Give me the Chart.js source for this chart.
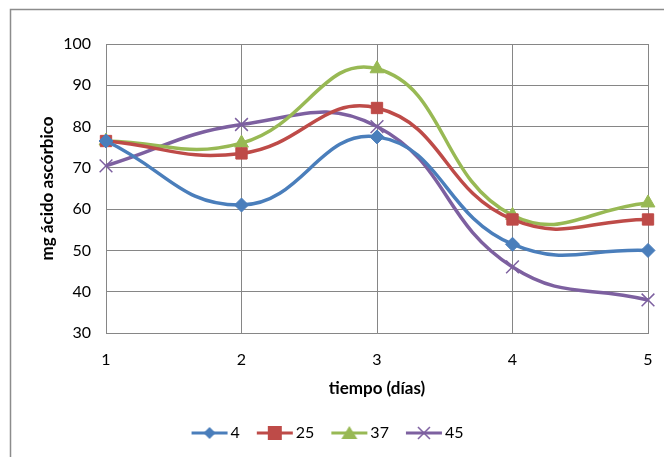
<!DOCTYPE html>
<html>
<head>
<meta charset="utf-8">
<script src="https://cdn.jsdelivr.net/npm/chart.js@4/dist/chart.umd.min.js"></script>
<style>
  html, body { margin: 0; padding: 0; background: #fff; }
  #wrap { width: 664px; height: 457px; position: relative; }
</style>
</head>
<body>
<div id="wrap"><canvas id="chart" width="664" height="457"></canvas></div>
<script>
'use strict';

var dias = ['1', '2', '3', '4', '5'];
var serie4 = [76.5, 61, 77.5, 51.5, 50];
var serie25 = [76.5, 73.5, 84.5, 57.5, 57.5];
var serie37 = [76.5, 76, 94, 58.5, 61.5];
var serie45 = [70.5, 80.5, 80, 46, 38];
var yTicks = [30, 40, 50, 60, 70, 80, 90, 100];

var FONT = 'Lato, "Open Sans", sans-serif';

// legend icon: short line with the marker in the middle (shifted right so the text sits close)
function legendIcon(color, style) {
    var c = document.createElement('canvas');
    c.width = 50; c.height = 16;
    var g = c.getContext('2d');
    var o = 12;
    g.strokeStyle = color;
    g.fillStyle = color;
    g.lineWidth = 3;
    g.beginPath(); g.moveTo(o + 1, 8); g.lineTo(o + 37, 8); g.stroke();
    if (style === 'rectRot') {
        g.beginPath(); g.moveTo(o + 19, 2); g.lineTo(o + 25, 8); g.lineTo(o + 19, 14); g.lineTo(o + 13, 8); g.closePath(); g.fill();
    } else if (style === 'rect') {
        g.fillRect(o + 12, 1, 14, 14);
    } else if (style === 'triangle') {
        g.beginPath(); g.moveTo(o + 19, 1); g.lineTo(o + 27, 14); g.lineTo(o + 11, 14); g.closePath(); g.fill();
    } else {
        g.lineWidth = 1.5;
        g.beginPath(); g.moveTo(o + 13, 2); g.lineTo(o + 25, 14); g.moveTo(o + 25, 2); g.lineTo(o + 13, 14); g.stroke();
    }
    return c;
}

var borderPlugin = {
    id: 'outerBorder',
    afterDraw: function (chart) {
        var ctx = chart.ctx;
        ctx.save();
        ctx.strokeStyle = '#8c8c8c';
        ctx.lineWidth = 1.5;
        ctx.beginPath();
        ctx.moveTo(10.5, 470);
        ctx.lineTo(10.5, 9.5);
        ctx.lineTo(680, 9.5);
        ctx.stroke();
        ctx.restore();
    }
};

function ds(label, data, color, style, radius, width) {
    return {
        label: label,
        data: data,
        borderColor: color,
        backgroundColor: color,
        borderWidth: 3.5,
        tension: 0.45,
        pointStyle: style,
        pointRadius: radius,
        pointBorderWidth: width,
        pointBorderColor: color,
        pointBackgroundColor: color,
        legendIcon: legendIcon(color, style)
    };
}

var ctx = document.getElementById('chart').getContext('2d');
var myChart = new Chart(ctx, {
    type: 'line',
    data: {
        labels: dias,
        datasets: [
            ds('4', serie4, '#4a7ebb', 'rectRot', 7, 1),
            ds('25', serie25, '#be4b48', 'rect', 8, 1),
            ds('37', serie37, '#98b954', 'triangle', 8, 1),
            ds('45', serie45, '#7d60a0', 'crossRot', 9, 1.5)
        ]
    },
    options: {
        responsive: false,
        animation: false,
        layout: { padding: { top: 44, right: 16, left: 0, bottom: 6 } },
        plugins: {
            tooltip: { enabled: false },
            legend: {
                position: 'bottom',
                labels: {
                    usePointStyle: true,
                    pointStyleWidth: 38,
                    font: { family: FONT, size: 16 },
                    color: '#000',
                    padding: 10,
                    generateLabels: function (chart) {
                        return chart.data.datasets.map(function (d, i) {
                            return {
                                text: d.label,
                                pointStyle: d.legendIcon,
                                fillStyle: d.borderColor,
                                strokeStyle: d.borderColor,
                                lineWidth: 0,
                                datasetIndex: i
                            };
                        });
                    }
                }
            }
        },
        scales: {
            x: {
                type: 'category',
                offset: false,
                grid: { color: '#868686', lineWidth: 1, drawTicks: false },
                border: { color: '#868686' },
                ticks: { font: { family: FONT, size: 16 }, color: '#000', padding: 17 },
                title: {
                    display: true,
                    text: 'tiempo (días)',
                    font: { family: FONT, size: 17, weight: 'bold' },
                    color: '#000',
                    padding: { top: 4, bottom: 16 }
                },
                afterFit: function (scale) {
                    scale.height = 82;
                    scale.paddingLeft = 0;
                    scale.paddingRight = 0;
                }
            },
            y: {
                min: 30,
                max: 100,
                afterBuildTicks: function (scale) {
                    scale.ticks = yTicks.map(function (v) { return { value: v }; });
                },
                grid: { color: '#868686', lineWidth: 1, drawTicks: false },
                border: { color: '#868686' },
                ticks: { font: { family: FONT, size: 16 }, color: '#000', padding: 15 },
                title: {
                    display: true,
                    text: 'mg ácido ascórbico',
                    font: { family: FONT, size: 17, weight: 'bold' },
                    color: '#000',
                    padding: { top: 37, bottom: 0 }
                },
                afterFit: function (scale) {
                    scale.width = 106;
                    scale.paddingTop = 0;
                    scale.paddingBottom = 0;
                }
            }
        }
    },
    plugins: [borderPlugin]
});
</script>
</body>
</html>
